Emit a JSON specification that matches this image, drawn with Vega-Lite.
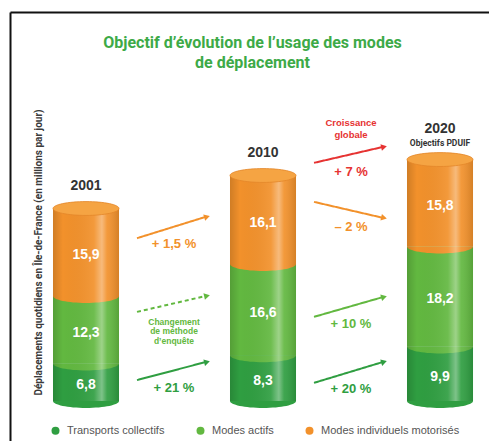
{
  "$schema": "https://vega.github.io/schema/vega-lite/v6.json",
  "width": 479,
  "height": 429,
  "autosize": {"type": "none"},
  "padding": {"left": 10, "top": 12, "right": 0, "bottom": 0},
  "background": "white",
  "title": {
    "text": ["Objectif d’évolution de l’usage des modes", "de déplacement"],
    "anchor": "middle",
    "frame": "group",
    "offset": -59,
    "dx": 3,
    "font": "Roboto",
    "fontSize": 16,
    "fontWeight": "bold",
    "color": "#3daa47",
    "lineHeight": 20
  },
  "config": {
    "view": {"stroke": null},
    "locale": {"number": {"decimal": ",", "thousands": " ", "grouping": [3], "currency": ["", " €"]}}
  },
  "datasets": {
    "segments": [
      {"year": "2001", "mode": "Transports collectifs", "value": 6.8},
      {"year": "2001", "mode": "Modes actifs", "value": 12.3},
      {"year": "2001", "mode": "Modes individuels motorisés", "value": 15.9},
      {"year": "2010", "mode": "Transports collectifs", "value": 8.3},
      {"year": "2010", "mode": "Modes actifs", "value": 16.6},
      {"year": "2010", "mode": "Modes individuels motorisés", "value": 16.1},
      {"year": "2020", "mode": "Transports collectifs", "value": 9.9},
      {"year": "2020", "mode": "Modes actifs", "value": 18.2},
      {"year": "2020", "mode": "Modes individuels motorisés", "value": 15.8}
    ],
    "years": [
      {"year": "2001", "note": ""},
      {"year": "2010", "note": ""},
      {"year": "2020", "note": "Objectifs PDUIF"}
    ],
    "changes": [
      {"from": "2001", "to": "2010", "mode": "Modes individuels motorisés", "label": "+ 1,5 %", "survey": "same", "y_start": 29.6, "y_end": 33.5},
      {"from": "2001", "to": "2010", "mode": "Modes actifs", "label": "", "note_below": "Changement\nde méthode\nd’enquête", "survey": "changed", "y_start": 16.2, "y_end": 19.1},
      {"from": "2001", "to": "2010", "mode": "Transports collectifs", "label": "+ 21 %", "survey": "same", "y_start": 3.8, "y_end": 7.1},
      {"from": "2010", "to": "2020", "mode": "Total", "label": "+ 7 %", "note_above": "Croissance\nglobale", "survey": "same", "y_start": 43.3, "y_end": 46.2},
      {"from": "2010", "to": "2020", "mode": "Modes individuels motorisés", "label": "– 2 %", "survey": "same", "y_start": 36.2, "y_end": 33.3},
      {"from": "2010", "to": "2020", "mode": "Modes actifs", "label": "+ 10 %", "survey": "same", "y_start": 15.3, "y_end": 18.9},
      {"from": "2010", "to": "2020", "mode": "Transports collectifs", "label": "+ 20 %", "survey": "same", "y_start": 3.3, "y_end": 7.1}
    ]
  },
  "layer": [
    {
      "data": {"name": "segments"},
      "transform": [
        {"window": [{"op": "row_number", "as": "rank"}], "groupby": ["year"]},
        {"stack": "value", "groupby": ["year"], "sort": [{"field": "rank", "order": "ascending"}], "as": ["y0", "y1"]}
      ],
      "mark": {"type": "bar", "stroke": null},
      "encoding": {
        "x": {
          "field": "year", "type": "nominal",
          "scale": {"paddingInner": 0.627, "paddingOuter": 0.1666, "align": 0.729},
          "axis": {"orient": "top", "title": null, "labels": false, "ticks": false, "grid": false, "domain": true, "domainColor": "#111", "domainWidth": 2}
        },
        "y": {
          "field": "y0", "type": "quantitative",
          "scale": {"domain": [-7.273, 70.727], "nice": false, "zero": false},
          "axis": {
            "title": "Déplacements quotidiens en Île-de-France (en millions par jour)",
            "labels": false, "ticks": false, "grid": false,
            "domain": true, "domainColor": "#111", "domainWidth": 2,
            "titleX": 28, "titleY": 240, "titleAngle": -90, "titleAlign": "center", "titleBaseline": "middle",
            "titleFont": "Roboto", "titleFontSize": 10, "titleFontWeight": "bold", "titleColor": "#3a3a3a"
          }
        },
        "y2": {"field": "y1"},
        "color": {
          "field": "mode", "type": "nominal",
          "scale": {
            "domain": ["Transports collectifs", "Modes actifs", "Modes individuels motorisés", "Total"],
            "range": ["#2f9e41", "#62b840", "#f2912b", "#e63332"]
          },
          "legend": {
            "title": null, "orient": "none", "legendX": 40, "legendY": 413, "direction": "horizontal",
            "symbolType": "circle", "symbolSize": 64, "symbolStrokeWidth": 0,
            "labelFont": "Liberation Sans", "labelFontSize": 11, "labelColor": "#555", "columnPadding": 30, "labelOffset": 6,
            "values": ["Transports collectifs", "Modes actifs", "Modes individuels motorisés"]
          }
        }
      }
    },
    {
      "data": {"name": "segments"},
      "transform": [
        {"window": [{"op": "row_number", "as": "rank"}], "groupby": ["year"]},
        {"stack": "value", "groupby": ["year"], "sort": [{"field": "rank", "order": "ascending"}], "as": ["y0", "y1"]}
      ],
      "mark": {"type": "point", "shape": "M-1,0A1,0.21,0,0,0,1,0Z", "size": 4356, "filled": true, "opacity": 1, "strokeWidth": 0},
      "encoding": {
        "x": {"field": "year", "type": "nominal"},
        "y": {"field": "y0", "type": "quantitative"},
        "color": {"field": "mode", "type": "nominal"}
      }
    },
    {
      "data": {"name": "segments"},
      "transform": [{"aggregate": [{"op": "sum", "field": "value", "as": "total"}], "groupby": ["year"]}],
      "mark": {
        "type": "bar",
        "fill": {
          "gradient": "linear", "x1": 0, "x2": 1, "y1": 0, "y2": 0,
          "stops": [
            {"offset": 0, "color": "rgba(0,0,0,0.14)"},
            {"offset": 0.15, "color": "rgba(0,0,0,0)"},
            {"offset": 0.62, "color": "rgba(255,255,255,0.08)"},
            {"offset": 0.74, "color": "rgba(255,255,255,0.38)"},
            {"offset": 0.82, "color": "rgba(255,255,255,0.08)"},
            {"offset": 1, "color": "rgba(0,0,0,0.12)"}
          ]
        }
      },
      "encoding": {
        "x": {"field": "year", "type": "nominal"},
        "y": {"field": "total", "type": "quantitative"},
        "y2": {"datum": 0}
      }
    },
    {
      "data": {"name": "segments"},
      "transform": [{"aggregate": [{"op": "sum", "field": "value", "as": "total"}], "groupby": ["year"]}],
      "mark": {"type": "point", "shape": "M-1,0A1,0.21,0,0,1,1,0A1,0.21,0,0,1,-1,0Z", "size": 4356, "filled": true, "opacity": 1, "fill": "#f5a443", "stroke": "#e3862a", "strokeWidth": 0.8},
      "encoding": {
        "x": {"field": "year", "type": "nominal"},
        "y": {"field": "total", "type": "quantitative"}
      }
    },
    {
      "data": {"name": "segments"},
      "transform": [
        {"window": [{"op": "row_number", "as": "rank"}], "groupby": ["year"]},
        {"stack": "value", "groupby": ["year"], "sort": [{"field": "rank", "order": "ascending"}], "as": ["y0", "y1"]},
        {"calculate": "(datum.y0 + datum.y1) / 2", "as": "ymid"}
      ],
      "mark": {"type": "text", "fill": "white", "font": "Liberation Sans", "fontSize": 14, "fontWeight": "bold", "baseline": "middle", "dy": 3},
      "encoding": {
        "x": {"field": "year", "type": "nominal"},
        "y": {"field": "ymid", "type": "quantitative"},
        "text": {"field": "value", "type": "quantitative", "format": ".1f"}
      }
    },
    {
      "data": {"name": "segments"},
      "transform": [
        {"aggregate": [{"op": "sum", "field": "value", "as": "total"}], "groupby": ["year"]},
        {"lookup": "year", "from": {"data": {"name": "years"}, "key": "year", "fields": ["note"]}},
        {"filter": "!datum.note"}
      ],
      "mark": {"type": "text", "fill": "#333", "font": "Liberation Sans", "fontSize": 14, "fontWeight": "bold", "baseline": "alphabetic", "dy": -18},
      "encoding": {
        "x": {"field": "year", "type": "nominal"},
        "y": {"field": "total", "type": "quantitative"},
        "text": {"field": "year", "type": "nominal"}
      }
    },
    {
      "data": {"name": "segments"},
      "transform": [
        {"aggregate": [{"op": "sum", "field": "value", "as": "total"}], "groupby": ["year"]},
        {"lookup": "year", "from": {"data": {"name": "years"}, "key": "year", "fields": ["note"]}},
        {"filter": "datum.note"}
      ],
      "mark": {"type": "text", "fill": "#333", "font": "Liberation Sans", "fontSize": 14, "fontWeight": "bold", "baseline": "alphabetic", "dy": -27},
      "encoding": {
        "x": {"field": "year", "type": "nominal"},
        "y": {"field": "total", "type": "quantitative"},
        "text": {"field": "year", "type": "nominal"}
      }
    },
    {
      "data": {"name": "segments"},
      "transform": [
        {"aggregate": [{"op": "sum", "field": "value", "as": "total"}], "groupby": ["year"]},
        {"lookup": "year", "from": {"data": {"name": "years"}, "key": "year", "fields": ["note"]}},
        {"filter": "datum.note"}
      ],
      "mark": {"type": "text", "fill": "#333", "font": "Roboto", "fontSize": 8.5, "fontWeight": "bold", "baseline": "alphabetic", "dy": -14},
      "encoding": {
        "x": {"field": "year", "type": "nominal"},
        "y": {"field": "total", "type": "quantitative"},
        "text": {"field": "note", "type": "nominal"}
      }
    },
    {
      "data": {"name": "changes"},
      "mark": {"type": "rule", "strokeWidth": 2, "xOffset": 51, "x2Offset": -57},
      "encoding": {
        "x": {"field": "from", "type": "nominal"},
        "x2": {"field": "to"},
        "y": {"field": "y_start", "type": "quantitative"},
        "y2": {"field": "y_end"},
        "color": {"field": "mode", "type": "nominal"},
        "strokeDash": {"field": "survey", "type": "nominal", "scale": {"domain": ["same", "changed"], "range": [[1, 0], [4, 3]]}, "legend": null}
      }
    },
    {
      "data": {"name": "changes"},
      "transform": [
        {"calculate": "-atan2((datum.y_end - datum.y_start) * 5.5, 70) * 180 / PI", "as": "angle"}
      ],
      "mark": {"type": "point", "shape": "triangle-right", "size": 45, "filled": true, "opacity": 1, "strokeWidth": 0, "xOffset": -56},
      "encoding": {
        "x": {"field": "to", "type": "nominal"},
        "y": {"field": "y_end", "type": "quantitative"},
        "angle": {"field": "angle", "type": "quantitative", "scale": null},
        "color": {"field": "mode", "type": "nominal"}
      }
    },
    {
      "data": {"name": "changes"},
      "transform": [{"calculate": "(datum.y_start + datum.y_end) / 2", "as": "y_mid"}],
      "mark": {"type": "text", "font": "Liberation Sans", "fontSize": 13, "fontWeight": "bold", "baseline": "middle", "dx": 88, "dy": 17},
      "encoding": {
        "x": {"field": "from", "type": "nominal"},
        "y": {"field": "y_mid", "type": "quantitative"},
        "text": {"field": "label", "type": "nominal"},
        "color": {"field": "mode", "type": "nominal"}
      }
    },
    {
      "data": {"name": "changes"},
      "transform": [{"filter": "datum.note_above"}, {"calculate": "(datum.y_start + datum.y_end) / 2", "as": "y_mid"}],
      "mark": {"type": "text", "font": "Liberation Sans", "fontSize": 9.5, "fontWeight": "bold", "baseline": "bottom", "lineBreak": "\n", "lineHeight": 12, "dx": 88, "dy": -27},
      "encoding": {
        "x": {"field": "from", "type": "nominal"},
        "y": {"field": "y_mid", "type": "quantitative"},
        "text": {"field": "note_above", "type": "nominal"},
        "color": {"field": "mode", "type": "nominal"}
      }
    },
    {
      "data": {"name": "changes"},
      "transform": [{"filter": "datum.note_below"}, {"calculate": "(datum.y_start + datum.y_end) / 2", "as": "y_mid"}],
      "mark": {"type": "text", "font": "Liberation Sans", "fontSize": 8.5, "fontWeight": "bold", "baseline": "top", "lineBreak": "\n", "lineHeight": 9.5, "dx": 88, "dy": 14},
      "encoding": {
        "x": {"field": "from", "type": "nominal"},
        "y": {"field": "y_mid", "type": "quantitative"},
        "text": {"field": "note_below", "type": "nominal"},
        "color": {"field": "mode", "type": "nominal"}
      }
    }
  ]
}
